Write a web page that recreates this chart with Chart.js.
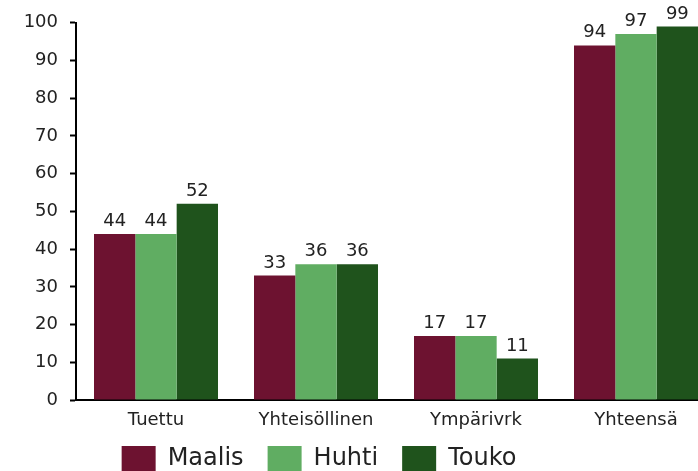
<!DOCTYPE html>
<html><head><meta charset="utf-8">
<script src="https://cdn.jsdelivr.net/npm/chart.js@4"></script>
<style>
html,body{margin:0;padding:0;overflow:hidden;background:#fff;width:698px;height:471px}
#wrap{position:absolute;left:0;top:0;width:716px;height:500px}
</style></head>
<body><div id="wrap"><canvas id="c" width="716" height="500"></canvas></div>
<script>
const categories = ['Tuettu', 'Yhteisöllinen', 'Ympärivrk', 'Yhteensä'];
const seriesNames = ['Maalis', 'Huhti', 'Touko'];
const maalis = [44, 33, 17, 94];
const huhti = [44, 36, 17, 97];
const touko = [52, 36, 11, 99];
const yTicks = [0, 10, 20, 30, 40, 50, 60, 70, 80, 90, 100];
const colors = ['#6D1230', '#60AD62', '#1F531C'];

const FONT = '"DejaVu Sans", Verdana, sans-serif';

const valueLabels = {
  id: 'valueLabels',
  afterDatasetsDraw(chart) {
    const ctx = chart.ctx;
    ctx.save();
    ctx.font = '18px ' + FONT;
    ctx.fillStyle = '#222';
    ctx.textAlign = 'center';
    ctx.textBaseline = 'alphabetic';
    chart.data.datasets.forEach((ds, i) => {
      chart.getDatasetMeta(i).data.forEach((bar, j) => {
        ctx.fillText(String(ds.data[j]), bar.x, bar.y - 8);
      });
    });
    ctx.restore();
  }
};

const legendShift = {
  id: 'legendShift',
  afterLayout(chart) {
    const l = chart.legend;
    l.left -= 39; l.right -= 39;
    l.top -= 18; l.bottom -= 18;
  }
};

const seriesData = [maalis, huhti, touko];

new Chart(document.getElementById('c'), {
  type: 'bar',
  data: {
    labels: categories,
    datasets: seriesNames.map((name, i) => ({
      label: name,
      data: seriesData[i],
      backgroundColor: colors[i],
      borderWidth: 0,
      categoryPercentage: 0.775,
      barPercentage: 1.0
    }))
  },
  options: {
    responsive: false,
    animation: false,
    layout: { padding: { top: 20, left: 0, right: 0, bottom: 0 } },
    plugins: {
      tooltip: { enabled: false },
      legend: {
        position: 'bottom',
        labels: {
          boxWidth: 34, boxHeight: 26, padding: 24,
          color: '#222',
          font: { family: FONT, size: 24 }
        }
      }
    },
    scales: {
      x: {
        grid: { display: false, drawTicks: false },
        border: { display: true, color: '#000', width: 2 },
        ticks: { padding: 10, color: '#222', font: { family: FONT, size: 18 } },
        afterFit(s) { s.height = 40; }
      },
      y: {
        min: 0, max: 100,
        afterBuildTicks(s) { s.ticks = yTicks.map(v => ({ value: v })); },
        grid: { display: true, drawOnChartArea: false, drawTicks: true, tickLength: 6, tickWidth: 2, tickColor: '#000' },
        border: { display: true, color: '#000', width: 2 },
        ticks: { padding: 12, color: '#222', font: { family: FONT, size: 18 } },
        afterFit(s) { s.width = 76; }
      }
    }
  },
  plugins: [valueLabels, legendShift]
});
</script>
</body></html>
